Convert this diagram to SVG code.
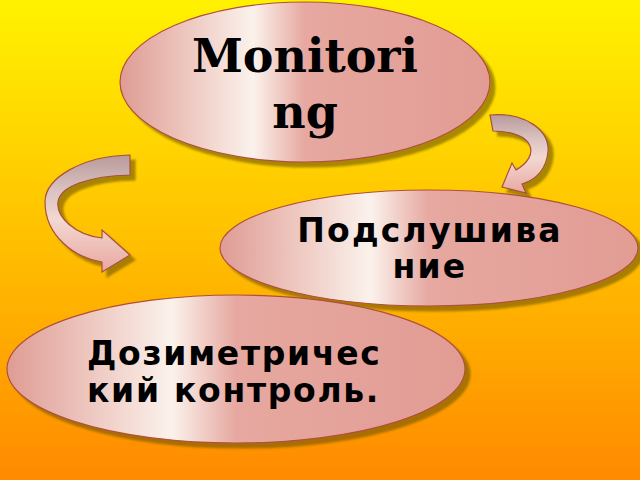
<svg xmlns="http://www.w3.org/2000/svg" width="640" height="480" viewBox="0 0 640 480">
<defs>
<linearGradient id="bg" x1="0" y1="0" x2="0" y2="1">
<stop offset="0" stop-color="#FFF200"/>
<stop offset="0.5" stop-color="#FFC000"/>
<stop offset="1" stop-color="#FF8A00"/>
</linearGradient>
<linearGradient id="ell" x1="0" y1="0" x2="1" y2="0">
<stop offset="0" stop-color="#DE9C94"/>
<stop offset="0.15" stop-color="#EBC0B8"/>
<stop offset="0.36" stop-color="#FBF2EC"/>
<stop offset="0.5" stop-color="#E6A8A0"/>
<stop offset="1" stop-color="#E29C94"/>
</linearGradient>
<linearGradient id="arr" x1="0" y1="0" x2="0" y2="1">
<stop offset="0" stop-color="#B89A9A"/>
<stop offset="0.3" stop-color="#D9C2C0"/>
<stop offset="0.55" stop-color="#F3D8D2"/>
<stop offset="1" stop-color="#E8A8A0"/>
</linearGradient>
<filter id="sh" x="-10%" y="-10%" width="130%" height="130%">
<feDropShadow dx="5" dy="5" stdDeviation="1.2" flood-color="#6E5500" flood-opacity="0.6"/>
</filter>
<style>
.node ellipse{fill:url(#ell);stroke:#B0503A;stroke-width:1.2;filter:url(#sh)}
.arrow{fill:url(#arr);stroke:#A8503A;stroke-width:1.2;filter:url(#sh)}
.serif{font-family:"DejaVu Serif","Liberation Serif",serif;font-weight:bold;fill:#000}
.sans{font-family:"DejaVu Sans","Liberation Sans",sans-serif;font-weight:bold;fill:#000}
</style>
</defs>
<rect width="640" height="480" fill="url(#bg)"/>
<g id="connectors">
<path class="arrow" d="M130,155 C82,156 45,178 45,202 C45,236 75,258 102,262 L102,272 L130,255 L102,230 L102,238 C75,235 56,217 58,202 C60,186 90,176 130,175 Z"/>
<path class="arrow" d="M490,115 C525,112 550,130 548,152 C546,170 535,180 522,184 L526,193 L502,187 L512,163 L516,170 C528,163 533,154 530,146 C527,137 512,131 493,131 Z"/>
</g>
<g id="node-monitoring" class="node">
<ellipse cx="305" cy="82" rx="185" ry="80"/>
<text class="serif" font-size="46" x="305" y="72" text-anchor="middle">Monitori</text>
<text class="serif" font-size="46" x="305" y="128" text-anchor="middle">ng</text>
</g>
<g id="node-podslush" class="node">
<ellipse cx="429" cy="248" rx="209" ry="58"/>
<text class="sans" font-size="33" x="430" y="242" text-anchor="middle" letter-spacing="2.2">Подслушива</text>
<text class="sans" font-size="33" x="430" y="278" text-anchor="middle" letter-spacing="2.2">ние</text>
</g>
<g id="node-dozim" class="node">
<ellipse cx="236" cy="369" rx="229" ry="74"/>
<text class="sans" font-size="33" x="87" y="365" letter-spacing="1.7">Дозиметричес</text>
<text class="sans" font-size="33" x="87" y="402" letter-spacing="1.7">кий контроль.</text>
</g>
</svg>
